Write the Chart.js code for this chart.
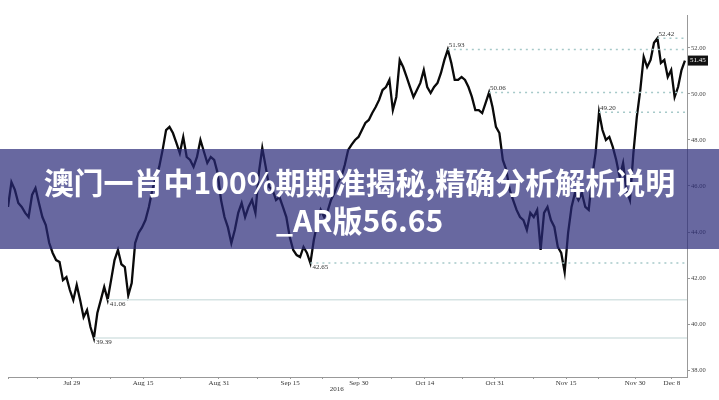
<!DOCTYPE html>
<html>
<head>
<meta charset="utf-8">
<script src="https://cdn.jsdelivr.net/npm/chart.js@4.4.0/dist/chart.umd.min.js"></script>
<style>
  html, body { margin: 0; padding: 0; background: #fff; }
  #wrap { position: relative; width: 719px; height: 400px; overflow: hidden; }
  #banner {
    position: absolute; left: 0; top: 149px; width: 719px; height: 100px;
    background: rgba(40, 40, 120, 0.7);
    color: #fff; text-align: center;
    font-family: "Noto Sans CJK SC", sans-serif; font-weight: bold;
    font-size: 30px; line-height: 38px; padding-top: 13px; box-sizing: border-box;
  }
</style>
</head>
<body>
<div id="wrap">
  <canvas id="chart" width="719" height="400"></canvas>
  <div id="banner">澳门一肖中100%期期准揭秘,精确分析解析说明<br>_AR版56.65</div>
</div>
<script>
// closing prices, roughly two readings per trading day, Jul -> Dec 8 2016
const closes = [
  45.09, 46.17, 45.83, 45.26, 45.09, 44.83, 44.65, 45.61, 45.91, 45.26,
  44.65, 44.30, 43.52, 43.09, 42.78, 42.70, 41.91, 42.04, 41.48, 41.04,
  41.70, 41.04, 40.30, 40.61, 39.87, 39.39, 40.48, 41.04, 41.61, 41.06,
  41.91, 42.78, 43.22, 42.60, 42.48, 41.25, 41.78, 43.52, 43.96, 44.20,
  44.52, 45.09, 45.83, 46.39, 46.83, 47.57, 48.43, 48.57,
  48.30, 47.87, 47.43, 48.13, 47.26, 47.13, 46.83, 47.26, 48.00, 47.50,
  47.00, 47.26, 47.13, 46.57, 45.39, 44.65, 44.20, 43.52, 44.09, 44.83,
  45.26, 44.65, 45.09, 45.39, 44.83, 46.57, 47.65, 46.83, 45.96, 45.83,
  45.39, 45.52, 45.09, 44.65, 43.78, 43.22, 43.00, 42.91, 43.35, 43.09,
  42.65, 43.65, 44.39, 44.96, 44.65, 44.90, 45.39, 45.70, 46.13, 46.39,
  46.91, 47.57, 47.80, 48.00, 48.13, 48.43, 48.74, 48.87, 49.17, 49.43, 49.74,
  50.17, 50.30, 50.61, 49.30, 49.87, 51.48, 51.17, 50.74, 50.30, 49.87,
  50.17, 50.48, 51.04, 50.30, 50.04, 50.30, 50.48, 50.91, 51.48, 51.93,
  51.35, 50.61, 50.61, 50.74, 50.61, 50.30, 49.87, 49.30, 49.30, 49.17,
  49.61, 50.06, 49.43, 48.57, 48.30, 47.13, 46.70, 45.83, 45.39, 44.96,
  44.65, 44.52, 44.09, 44.83, 44.65, 44.96, 43.22, 44.83, 45.09, 44.52,
  44.22, 43.35, 43.09, 42.26, 43.96, 45.09, 45.70, 45.39, 45.70, 45.09,
  44.96, 46.39, 47.43, 49.20, 48.43, 48.00, 48.13, 47.70, 47.13,
  46.39, 47.00, 45.83, 45.39, 47.43, 49.00, 50.17, 51.61, 51.17,
  51.48, 52.22, 52.42, 51.35, 51.48, 50.74, 51.04, 49.87, 50.30, 51.04,
  51.45
];

// date labels and where they fall on the reading index
const dateLabels = ['Jul 29', 'Aug 15', 'Aug 31', 'Sep 15', 'Sep 30', 'Oct 14', 'Oct 31', 'Nov 15', 'Nov 30', 'Dec 8'];
const dateIndex = [18.6, 39.3, 61.4, 82.1, 102.1, 121.3, 141.7, 162.4, 182.5, 193.2];
const minorIndex = [0, 8.7, 29.7, 50.1, 72.5, 91.4, 111.7, 132.4, 152.8, 171.7];
const yearLabel = '2016';

// marked highs and lows
const highLevels = [51.93, 50.06, 49.20, 52.42];
const lowLevels = [42.65];
const supportLevels = [41.06, 39.39];

const priceTicks = [38, 40, 42, 44, 46, 48, 50, 52];

const xMax = closes.length - 1 + 0.6;

function levelData(level) {
  const start = closes.indexOf(level);
  return [{ x: start, y: level }, { x: xMax, y: level }];
}

const datasets = [];
highLevels.concat(lowLevels).forEach(level => {
  datasets.push({
    data: levelData(level),
    borderColor: '#a6c9c9',
    borderWidth: 1.5,
    borderDash: [2, 4],
    pointRadius: 0
  });
});
supportLevels.forEach(level => {
  datasets.push({
    data: levelData(level),
    borderColor: '#d6e3e3',
    borderWidth: 1.5,
    pointRadius: 0
  });
});
datasets.push({
  data: closes.map((v, i) => ({ x: i, y: v })),
  borderColor: '#0a0a0a',
  borderWidth: 2.3,
  pointRadius: 0,
  tension: 0
});

// labels next to each marked level, the year under the axis, last price box
const annotate = {
  id: 'annotate',
  afterDatasetsDraw(chart) {
    const ctx = chart.ctx;
    const xs = chart.scales.x;
    const ys = chart.scales.y;
    ctx.save();
    ctx.font = '7px "Liberation Serif"';
    ctx.fillStyle = '#333';
    ctx.textAlign = 'left';
    highLevels.forEach(level => {
      const px = xs.getPixelForValue(closes.indexOf(level));
      ctx.textBaseline = 'bottom';
      ctx.fillText(level.toFixed(2), px + 1, ys.getPixelForValue(level) - 1);
    });
    lowLevels.concat(supportLevels).forEach(level => {
      const px = xs.getPixelForValue(closes.indexOf(level));
      ctx.textBaseline = 'top';
      ctx.fillText(level.toFixed(2), px + 2, ys.getPixelForValue(level) + 1);
    });

    // year under Sep 30
    ctx.textAlign = 'center';
    ctx.textBaseline = 'middle';
    ctx.fillText(yearLabel, xs.getPixelForValue(dateIndex[4]) - 22, chart.chartArea.bottom + 12);

    // last price tag
    const last = closes[closes.length - 1];
    const ly = ys.getPixelForValue(last);
    const bx = chart.chartArea.right + 1;
    ctx.fillStyle = '#111';
    ctx.fillRect(bx, ly - 5, 20, 10);
    ctx.fillStyle = '#fff';
    ctx.textAlign = 'left';
    ctx.fillText(last.toFixed(2), bx + 2, ly);
    ctx.restore();
  }
};

new Chart(document.getElementById('chart').getContext('2d'), {
  type: 'line',
  data: { datasets: datasets },
  options: {
    responsive: false,
    animation: false,
    layout: { padding: { left: 8, top: 15, right: 0, bottom: 0 } },
    plugins: { legend: { display: false }, tooltip: { enabled: false } },
    scales: {
      x: {
        type: 'linear',
        min: 0,
        max: xMax,
        afterFit(scale) { scale.height = 23; },
        afterBuildTicks(scale) {
          scale.ticks = dateIndex.concat(minorIndex).map(v => ({ value: v }));
        },
        ticks: {
          autoSkip: false,
          maxRotation: 0,
          padding: 0,
          color: '#333',
          font: { family: 'Liberation Serif', size: 7 },
          callback(value) {
            const k = dateIndex.indexOf(value);
            return k >= 0 ? dateLabels[k] : '';
          }
        },
        grid: { drawOnChartArea: false, tickLength: 2, color: '#999' },
        border: { color: '#999' }
      },
      y: {
        position: 'right',
        min: 37.7,
        max: 53.43,
        afterFit(scale) { scale.width = 32; },
        afterBuildTicks(scale) {
          scale.ticks = priceTicks.map(v => ({ value: v }));
        },
        ticks: {
          padding: 1,
          color: '#444',
          font: { family: 'Liberation Serif', size: 6.5 },
          callback: v => v.toFixed(2)
        },
        grid: { drawOnChartArea: false, tickLength: 3, color: '#999' },
        border: { color: '#999' }
      }
    }
  },
  plugins: [annotate]
});
</script>
</body>
</html>
